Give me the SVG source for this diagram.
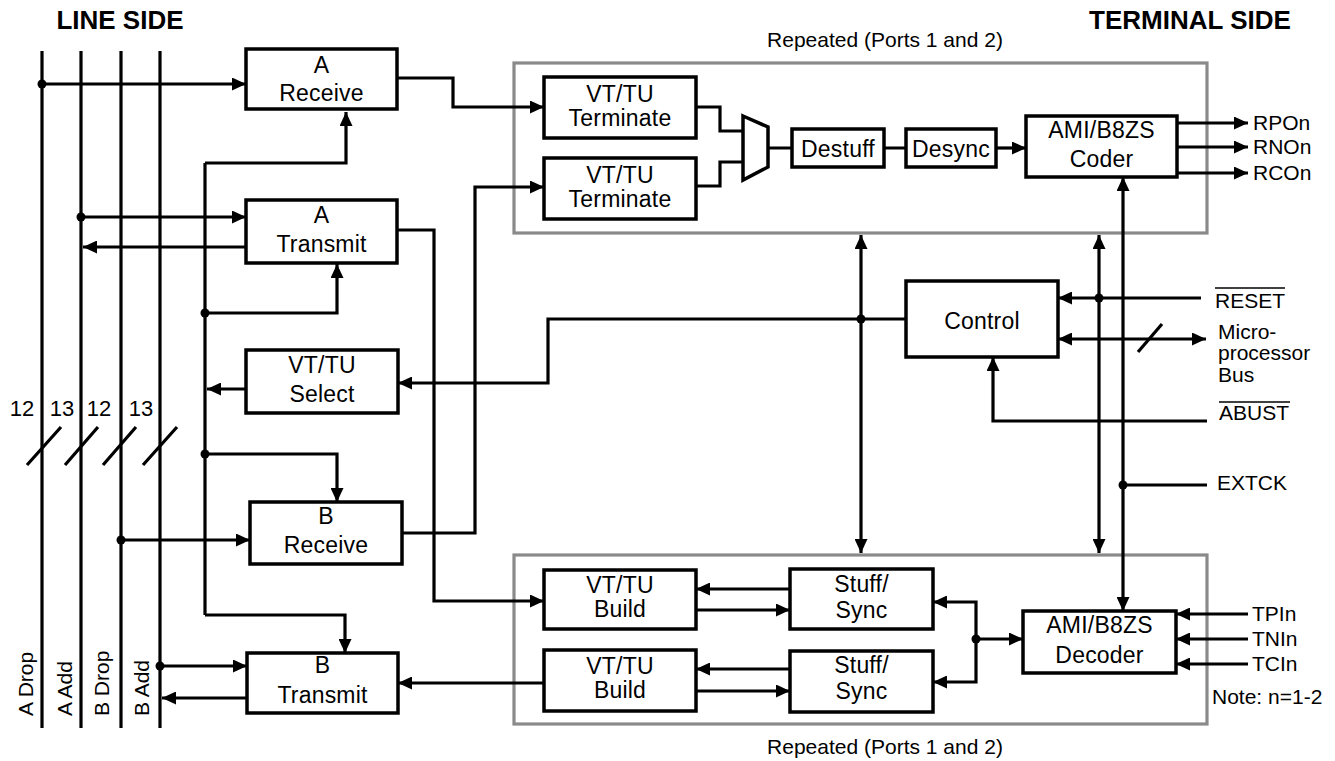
<svg xmlns="http://www.w3.org/2000/svg" width="1335" height="761" viewBox="0 0 1335 761">
<defs>
<marker id="ah" viewBox="0 0 14 13" refX="14" refY="6.5" markerWidth="14" markerHeight="13" markerUnits="userSpaceOnUse" orient="auto-start-reverse">
<path d="M0,0 L14,6.5 L0,13 z" fill="#000"/>
</marker>
<style>
.bx{fill:#fff;stroke:#000;stroke-width:3.5}
.grp{fill:none;stroke:#8a8a8a;stroke-width:3.2}
.w{fill:none;stroke:#000;stroke-width:3.2}
.a{marker-end:url(#ah)}
.aa{marker-end:url(#ah);marker-start:url(#ah)}
.t{font-family:"Liberation Sans",Arial,sans-serif;font-size:23px;letter-spacing:0.2px;text-anchor:middle;fill:#000}
.l{font-family:"Liberation Sans",Arial,sans-serif;font-size:21px;fill:#000}
.h{font-family:"Liberation Sans",Arial,sans-serif;font-size:26px;font-weight:bold;text-anchor:middle;fill:#000}
.d{fill:#000}
</style>
</defs>
<rect width="1335" height="761" fill="#fff"/>

<text class="h" x="120" y="29">LINE SIDE</text>
<text class="h" x="1190" y="29">TERMINAL SIDE</text>
<text class="l" x="885" y="47" text-anchor="middle">Repeated (Ports 1 and 2)</text>
<text class="l" x="885" y="754" text-anchor="middle">Repeated (Ports 1 and 2)</text>

<g id="groups">
<rect class="grp" x="514" y="63" width="693" height="170"/>
<rect class="grp" x="514" y="555" width="693" height="169"/>
</g>

<g id="connectors">
<path class="w" d="M42,51V728M81,51V728M121,51V728M160,51V728"/>
<path class="w" d="M27,465L61,427M65,465L98,427M103,465L136,427M143,465L177,427"/>
<path class="w a" d="M42,84H246"/>
<path class="w" d="M205,163V615"/>
<path class="w a" d="M205,163H346V112"/>
<path class="w a" d="M81,217H246"/>
<path class="w a" d="M246,247H83"/>
<path class="w a" d="M205,313H337V264"/>
<path class="w a" d="M246,389H207"/>
<path class="w a" d="M205,454H337V502"/>
<path class="w a" d="M121,540H250"/>
<path class="w a" d="M205,615H345V653"/>
<path class="w a" d="M160,666H247"/>
<path class="w a" d="M247,698H162"/>
<path class="w a" d="M397,78H453V107H544"/>
<path class="w a" d="M397,230H434V601H544"/>
<path class="w a" d="M402,533H475V187H544"/>
<path class="w a" d="M906,319H548V383H398"/>
<path class="w aa" d="M861,235V553"/>
<path class="w a" d="M544,683H398"/>
<path class="w" d="M696,107H720V131H743M696,186H720V162H743M768,148H792M884,148H906"/>
<path class="w a" d="M996,148H1026"/>
<path class="w a" d="M1177,123H1248"/>
<path class="w a" d="M1177,147H1248"/>
<path class="w a" d="M1177,173H1248"/>
<path class="w aa" d="M1123,177V611"/>
<path class="w aa" d="M1099,235V553"/>
<path class="w" d="M1123,485H1207"/>
<path class="w a" d="M1201,298H1058"/>
<path class="w aa" d="M1058,339H1206"/>
<path class="w" d="M1138,352L1162,324"/>
<path class="w a" d="M1207,421H993V357"/>
<path class="w a" d="M790,589H696"/>
<path class="w a" d="M696,610H790"/>
<path class="w a" d="M790,669H696"/>
<path class="w a" d="M696,691H790"/>
<path class="w a" d="M976,639V602H933"/>
<path class="w a" d="M976,639V682H933"/>
<path class="w a" d="M976,639H1023"/>
<path class="w a" d="M1248,614H1176"/>
<path class="w a" d="M1248,639H1176"/>
<path class="w a" d="M1248,664H1176"/>
<circle class="d" cx="42" cy="84" r="4.5"/>
<circle class="d" cx="81" cy="217" r="4.5"/>
<circle class="d" cx="121" cy="540" r="4.5"/>
<circle class="d" cx="160" cy="666" r="4.5"/>
<circle class="d" cx="205" cy="313" r="4.5"/>
<circle class="d" cx="205" cy="454" r="4.5"/>
<circle class="d" cx="861" cy="319" r="4.5"/>
<circle class="d" cx="1099" cy="298" r="4.5"/>
<circle class="d" cx="1123" cy="485" r="4.5"/>
<circle class="d" cx="976" cy="639" r="4.5"/>
</g>

<g id="line-labels">
<text class="l" style="font-size:22px" x="22" y="416" text-anchor="middle">12</text>
<text class="l" style="font-size:22px" x="62" y="416" text-anchor="middle">13</text>
<text class="l" style="font-size:22px" x="99" y="416" text-anchor="middle">12</text>
<text class="l" style="font-size:22px" x="141" y="416" text-anchor="middle">13</text>
<text class="l" style="font-size:21px" transform="translate(33,716) rotate(-90)">A Drop</text>
<text class="l" style="font-size:21px" transform="translate(72,716) rotate(-90)">A Add</text>
<text class="l" style="font-size:21px" transform="translate(109,716) rotate(-90)">B Drop</text>
<text class="l" style="font-size:21px" transform="translate(149,716) rotate(-90)">B Add</text>
</g>

<g id="a-receive"><rect class="bx" x="246" y="49" width="151" height="60"/><text class="t" x="321.5" y="73">A</text><text class="t" x="321.5" y="101">Receive</text></g>
<g id="a-transmit"><rect class="bx" x="246" y="200" width="151" height="63"/><text class="t" x="321.5" y="223">A</text><text class="t" x="321.5" y="252">Transmit</text></g>
<g id="vttu-select"><rect class="bx" x="246" y="350" width="152" height="63"/><text class="t" x="322" y="373">VT/TU</text><text class="t" x="322" y="402">Select</text></g>
<g id="b-receive"><rect class="bx" x="250" y="502" width="152" height="62"/><text class="t" x="326" y="524">B</text><text class="t" x="326" y="553">Receive</text></g>
<g id="b-transmit"><rect class="bx" x="247" y="653" width="151" height="60"/><text class="t" x="322.5" y="673">B</text><text class="t" x="322.5" y="703">Transmit</text></g>

<g id="terminate1"><rect class="bx" x="544" y="77" width="152" height="61"/><text class="t" x="620" y="102">VT/TU</text><text class="t" x="620" y="126">Terminate</text></g>
<g id="terminate2"><rect class="bx" x="544" y="158" width="152" height="61"/><text class="t" x="620" y="183">VT/TU</text><text class="t" x="620" y="207">Terminate</text></g>
<g id="mux"><polygon points="743,116 768,127 768,167 743,180" fill="#fff" stroke="#000" stroke-width="3.5"/></g>
<g id="destuff"><rect class="bx" x="792" y="129" width="92" height="38"/><text class="t" x="838" y="157">Destuff</text></g>
<g id="desync"><rect class="bx" x="906" y="129" width="90" height="38"/><text class="t" x="951" y="157">Desync</text></g>
<g id="coder"><rect class="bx" x="1026" y="116" width="151" height="61"/><text class="t" x="1101.5" y="138">AMI/B8ZS</text><text class="t" x="1101.5" y="167">Coder</text></g>

<g id="control"><rect class="bx" x="906" y="281" width="152" height="76"/><text class="t" x="982" y="329">Control</text></g>

<g id="build1"><rect class="bx" x="544" y="570" width="152" height="59"/><text class="t" x="620" y="593">VT/TU</text><text class="t" x="620" y="617">Build</text></g>
<g id="build2"><rect class="bx" x="544" y="650" width="152" height="61"/><text class="t" x="620" y="674">VT/TU</text><text class="t" x="620" y="698">Build</text></g>
<g id="stuff1"><rect class="bx" x="790" y="569" width="143" height="60"/><text class="t" x="861.5" y="592">Stuff/</text><text class="t" x="861.5" y="618">Sync</text></g>
<g id="stuff2"><rect class="bx" x="790" y="651" width="143" height="61"/><text class="t" x="861.5" y="673">Stuff/</text><text class="t" x="861.5" y="699">Sync</text></g>
<g id="decoder"><rect class="bx" x="1023" y="611" width="153" height="62"/><text class="t" x="1099.5" y="633">AMI/B8ZS</text><text class="t" x="1099.5" y="663">Decoder</text></g>

<g id="terminal-labels">
<text class="l" x="1253" y="130">RPOn</text>
<text class="l" x="1253" y="154">RNOn</text>
<text class="l" x="1253" y="180">RCOn</text>
<text class="l" x="1215" y="308">RESET</text>
<line x1="1215" y1="288" x2="1285" y2="288" stroke="#000" stroke-width="1.5"/>
<text class="l" x="1218" y="339">Micro-</text>
<text class="l" x="1218" y="360">processor</text>
<text class="l" x="1218" y="382">Bus</text>
<text class="l" x="1219" y="420">ABUST</text>
<line x1="1219" y1="402" x2="1290" y2="402" stroke="#000" stroke-width="1.5"/>
<text class="l" x="1217" y="490">EXTCK</text>
<text class="l" x="1252" y="621">TPIn</text>
<text class="l" x="1252" y="646">TNIn</text>
<text class="l" x="1252" y="671">TCIn</text>
<text class="l" x="1212" y="704">Note: n=1-2</text>
</g>
</svg>
